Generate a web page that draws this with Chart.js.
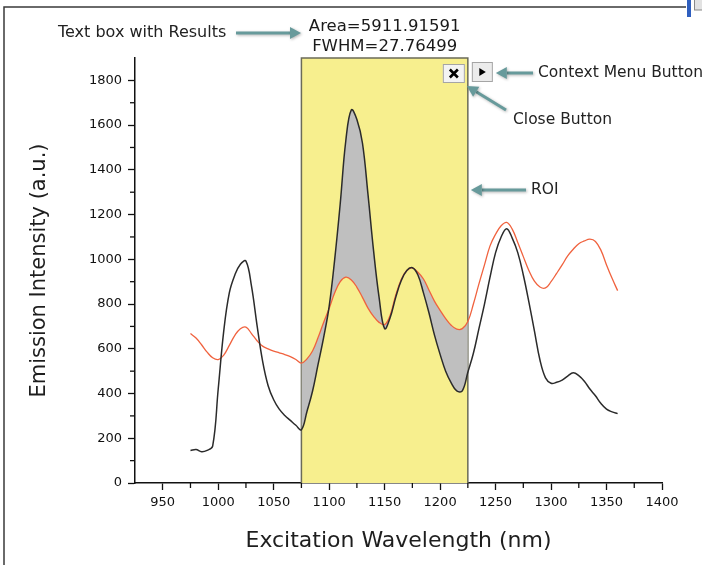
<!DOCTYPE html>
<html>
<head>
<meta charset="utf-8">
<script src="https://cdn.jsdelivr.net/npm/chart.js@4.4.0/dist/chart.umd.min.js"></script>
<style>
html,body{margin:0;padding:0;background:#fff;}
#wrap{width:702px;height:565px;position:relative;}
</style>
</head>
<body>
<div id="wrap"><canvas id="c" width="702" height="565"></canvas></div>
<script>
// ---- data ----
const wavelengths = [975,980,985,990,995,1000,1005,1010,1015,1020,1025,1030,1035,1040,1045,1050,1055,1060,1065,1070,
  1075,1080,1085,1090,1095,1100,1105,1110,1115,1120,1125,1130,1135,1140,1145,1150,1155,1160,1165,1170,
  1175,1180,1185,1190,1195,1200,1205,1210,1215,1220,1225,1230,1235,1240,1245,1250,1255,1260,1265,1270,
  1275,1280,1285,1290,1295,1300,1305,1310,1315,1320,1325,1330,1335,1340,1345,1350,1355,1360];
const sampleSpectrum = [145,150,140,146,165,420,680,850,930,978,992,880,705,545,435,372,330,302,280,258,
  238,320,410,530,650,790,1000,1250,1530,1668,1625,1520,1290,1040,830,690,740,830,905,950,
  962,930,850,760,660,575,500,448,412,412,495,580,690,800,920,1030,1100,1137,1095,1030,
  930,810,680,550,470,446,450,460,478,493,480,455,420,390,355,330,318,310];
const referenceSpectrum = [668,648,618,585,560,552,572,615,660,690,697,668,636,612,600,590,582,574,565,552,
  536,555,590,650,718,780,850,900,920,908,875,830,782,745,718,708,750,840,910,950,
  962,942,912,862,812,772,735,705,688,690,722,800,890,975,1060,1112,1150,1165,1135,1075,
  1012,950,902,876,872,900,937,975,1015,1045,1070,1082,1090,1080,1040,975,915,860];
const roiRange = [1075, 1225];
const xTickLabels = [950,1000,1050,1100,1150,1200,1250,1300,1350,1400];
const xMinorTicks = [975,1025,1075,1125,1175,1225,1275,1325,1375];
const yTickLabels = [0,200,400,600,800,1000,1200,1400,1600,1800];
const yMinorTicks = [100,300,500,700,900,1100,1300,1500,1700];
const resultLines = ['Area=5911.91591', 'FWHM=27.76499'];

const FONT = "'DejaVu Sans', Verdana, sans-serif";
Chart.defaults.font.family = FONT;

const pts = ys => wavelengths.map((x, i) => ({x: x, y: ys[i]}));
const inRoi = p => p.x >= roiRange[0] && p.x <= roiRange[1];

function arrow(ctx, x1, y1, x2, y2) {
  const a = Math.atan2(y2 - y1, x2 - x1), hl = 11, hw = 6;
  const bx = x2 - hl * Math.cos(a), by = y2 - hl * Math.sin(a);
  ctx.save();
  ctx.shadowColor = 'rgba(0,0,0,0.3)'; ctx.shadowBlur = 3; ctx.shadowOffsetX = 1; ctx.shadowOffsetY = 1;
  ctx.strokeStyle = ctx.fillStyle = '#679a9b';
  ctx.lineWidth = 3;
  ctx.beginPath(); ctx.moveTo(x1, y1); ctx.lineTo(bx, by); ctx.stroke();
  ctx.beginPath(); ctx.moveTo(x2, y2);
  ctx.lineTo(bx + hw * Math.sin(a), by - hw * Math.cos(a));
  ctx.lineTo(bx - hw * Math.sin(a), by + hw * Math.cos(a));
  ctx.closePath(); ctx.fill();
  ctx.restore();
}

const roiPlugin = {
  id: 'roi',
  beforeDatasetsDraw(chart) {
    const {ctx, chartArea: ca, scales: {x}} = chart;
    const x1 = x.getPixelForValue(roiRange[0]), x2 = x.getPixelForValue(roiRange[1]);
    ctx.save();
    ctx.fillStyle = '#f7ef8e';
    ctx.fillRect(x1, ca.top, x2 - x1, ca.bottom - ca.top);
    ctx.strokeStyle = '#6b6b58'; ctx.lineWidth = 1.5;
    ctx.beginPath(); ctx.moveTo(x1, ca.bottom); ctx.lineTo(x1, ca.top); ctx.lineTo(x2, ca.top); ctx.lineTo(x2, ca.bottom); ctx.stroke();
    ctx.restore();
  },
  afterDraw(chart) {
    const {ctx, chartArea: ca, scales: {x, y}} = chart;
    const x1 = x.getPixelForValue(roiRange[0]), x2 = x.getPixelForValue(roiRange[1]);
    ctx.save();
    // minor ticks
    ctx.strokeStyle = '#111'; ctx.lineWidth = 1.3;
    xMinorTicks.forEach(v => { const px = x.getPixelForValue(v); ctx.beginPath(); ctx.moveTo(px, ca.bottom); ctx.lineTo(px, ca.bottom + 5); ctx.stroke(); });
    yMinorTicks.forEach(v => { const py = y.getPixelForValue(v); ctx.beginPath(); ctx.moveTo(ca.left, py); ctx.lineTo(ca.left - 5, py); ctx.stroke(); });

    // frame
    ctx.strokeStyle = '#3a3a3a'; ctx.lineWidth = 1.5;
    ctx.beginPath(); ctx.moveTo(4, 565); ctx.lineTo(4, 7); ctx.lineTo(686, 7); ctx.stroke();
    ctx.fillStyle = '#2f5fbf'; ctx.fillRect(687, 0, 4, 17);
    ctx.fillStyle = '#e2e2e2'; ctx.fillRect(694, 0, 8, 10);
    ctx.strokeStyle = '#888'; ctx.lineWidth = 1; ctx.strokeRect(694.5, -1, 9, 11);

    // result text above ROI
    const cx = (x1 + x2) / 2;
    ctx.fillStyle = '#1a1a1a';
    ctx.textBaseline = 'middle';
    ctx.textAlign = 'center';
    ctx.font = '16.5px ' + FONT;
    ctx.fillText(resultLines[0], cx, 27);
    ctx.fillText(resultLines[1], cx, 47);

    // buttons
    const cbx = x2 - 25, cby = ca.top + 6;
    ctx.fillStyle = '#f3f3f3'; ctx.strokeStyle = '#a5a5a5'; ctx.lineWidth = 1;
    ctx.fillRect(cbx, cby, 22, 19); ctx.strokeRect(cbx + 0.5, cby + 0.5, 21, 18);
    ctx.strokeStyle = '#000'; ctx.lineWidth = 2.6;
    const ccx = cbx + 11, ccy = cby + 9.5;
    ctx.beginPath(); ctx.moveTo(ccx - 4, ccy - 4); ctx.lineTo(ccx + 4, ccy + 4); ctx.moveTo(ccx + 4, ccy - 4); ctx.lineTo(ccx - 4, ccy + 4); ctx.stroke();
    const mbx = x2 + 4, mby = ca.top + 4;
    ctx.fillStyle = '#ececec'; ctx.strokeStyle = '#a5a5a5'; ctx.lineWidth = 1;
    ctx.fillRect(mbx, mby, 21, 20); ctx.strokeRect(mbx + 0.5, mby + 0.5, 20, 19);
    ctx.fillStyle = '#000';
    const mcx = mbx + 10.5, mcy = mby + 10;
    ctx.beginPath(); ctx.moveTo(mcx - 3, mcy - 4); ctx.lineTo(mcx + 3.5, mcy); ctx.lineTo(mcx - 3, mcy + 4); ctx.closePath(); ctx.fill();

    // annotations
    ctx.fillStyle = '#222';
    ctx.textAlign = 'left';
    ctx.font = '16px ' + FONT;
    ctx.fillText('Text box with Results', 58, 33);
    arrow(ctx, 236, 33, 301, 33);
    ctx.font = '15.5px ' + FONT;
    ctx.fillText('Context Menu Button', 538, 73);
    arrow(ctx, 533, 73, x2 + 28, 73);
    ctx.fillText('Close Button', 513, 120);
    arrow(ctx, 506, 110, x2 - 1, 86);
    ctx.fillText('ROI', 531, 190);
    arrow(ctx, 526, 190, x2 + 3, 190);
    ctx.restore();
  }
};

const lineStyle = {pointRadius: 0, tension: 0.4};

new Chart(document.getElementById('c'), {
  type: 'line',
  data: {
    datasets: [
      Object.assign({label: 'Sample', data: pts(sampleSpectrum), borderColor: '#2b2b2b', borderWidth: 1.5, fill: false}, lineStyle),
      Object.assign({label: 'Reference', data: pts(referenceSpectrum), borderColor: '#f0623e', borderWidth: 1.3, fill: false}, lineStyle),
      Object.assign({label: 'ROI sample', data: pts(sampleSpectrum).filter(inRoi), borderColor: 'transparent', borderWidth: 1,
        fill: {target: 3}, backgroundColor: '#bfbfbf'}, lineStyle),
      Object.assign({label: 'ROI reference', data: pts(referenceSpectrum).filter(inRoi), borderColor: 'transparent', borderWidth: 1,
        fill: false}, lineStyle)
    ]
  },
  options: {
    responsive: false,
    animation: false,
    events: [],
    layout: {padding: {left: 0, right: 40, top: 58, bottom: 0}},
    plugins: {legend: {display: false}, tooltip: {enabled: false}},
    scales: {
      x: {
        type: 'linear', min: 925, max: 1400,
        afterBuildTicks: s => { s.ticks = xTickLabels.map(v => ({value: v})); },
        afterFit: s => { s.height = 82; },
        grid: {drawOnChartArea: false, drawTicks: true, tickLength: 7, tickColor: '#111', tickWidth: 1.3},
        border: {display: true, color: '#111', width: 1.5},
        ticks: {color: '#111', font: {size: 13}, padding: 5, maxRotation: 0, autoSkip: false,
          callback: v => String(v)},
        title: {display: true, text: 'Excitation Wavelength (nm)', color: '#1e1e1e', font: {size: 22}, padding: {top: 0, bottom: 11}}
      },
      y: {
        type: 'linear', min: 0, max: 1900,
        afterBuildTicks: s => { s.ticks = yTickLabels.map(v => ({value: v})); },
        afterFit: s => { s.width = 135; },
        grid: {drawOnChartArea: false, drawTicks: true, tickLength: 7, tickColor: '#111', tickWidth: 1.3},
        border: {display: true, color: '#111', width: 1.5},
        ticks: {color: '#111', font: {size: 13}, padding: 6, autoSkip: false,
          callback: v => String(v)},
        title: {display: true, text: 'Emission Intensity (a.u.)', color: '#1e1e1e', font: {size: 21}, padding: {top: 27, bottom: 0}}
      }
    }
  },
  plugins: [roiPlugin]
});
</script>
</body>
</html>
